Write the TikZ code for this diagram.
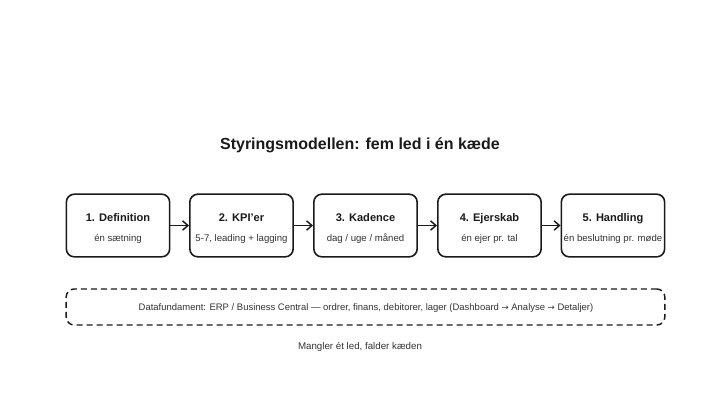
\documentclass[tikz,border=0pt]{standalone}
\usepackage{fontspec}
\setmainfont{Liberation Sans}
\newfontfamily\arrowfont{DejaVu Sans}
\newcommand{\rarr}{{\arrowfont\fontsize{6.4}{8}\selectfont →}}
\usetikzlibrary{arrows.meta}
\definecolor{ink}{HTML}{1A1A1A}
\definecolor{subink}{HTML}{333333}
\tikzset{
  stepbox/.style={draw=ink, line width=1.2pt, rounded corners=6pt, minimum width=77.5pt, minimum height=47pt, fill=white},
  boxtitle/.style={font=\fontsize{8.3}{10}\selectfont\bfseries, text=ink, text height=6.2pt, text depth=1.8pt},
  boxsub/.style={font=\fontsize{7.2}{8}\selectfont, text=subink, text height=5.4pt, text depth=1.6pt},
  smalltext/.style={font=\fontsize{7.1}{8}\selectfont, text=subink, text height=5.4pt, text depth=1.6pt},
  link/.style={draw=ink, line width=1.1pt, -{Straight Barb[length=4pt,width=7pt]}},
  databox/.style={draw=ink, line width=1.1pt, dash pattern=on 4.5pt off 3pt, rounded corners=6pt, minimum width=449pt, minimum height=27pt},
}
\begin{document}
\begin{tikzpicture}[x=0.75pt,y=-0.75pt]
\useasboundingbox (0,0) rectangle (720,405);
\node[font=\fontsize{12}{14}\selectfont\bfseries, text=ink] (title) at (360,145) {Styringsmodellen: fem led i én kæde};
\foreach \i/\x/\t/\s in {1/118/{1. Definition}/{én sætning}, 2/241.5/{2. KPI'er}/{5-7, leading + lagging}, 3/365.5/{3. Kadence}/{dag / uge / måned}, 4/489.5/{4. Ejerskab}/{én ejer pr. tal}, 5/613/{5. Handling}/{én beslutning pr. møde}}{
  \node[stepbox] (b\i) at (\x,225.5) {};
  \node[boxtitle] (t\i) at (\x,219) {\t};
  \node[boxsub] (s\i) at (\x,239) {\s};
}
\draw[link] (b1) -- (b2);
\draw[link] (b2) -- (b3);
\draw[link] (b3) -- (b4);
\draw[link] (b4) -- (b5);
\node[databox] (data) at (365.5,307) {};
\node[smalltext] (datatext) at (366,308) {Datafundament: ERP / Business Central — ordrer, finans, debitorer, lager (Dashboard \rarr\ Analyse \rarr\ Detaljer)};
\node[smalltext, font=\fontsize{7.3}{8}\selectfont] (foot) at (360,347) {Mangler ét led, falder kæden};
\end{tikzpicture}
\end{document}
